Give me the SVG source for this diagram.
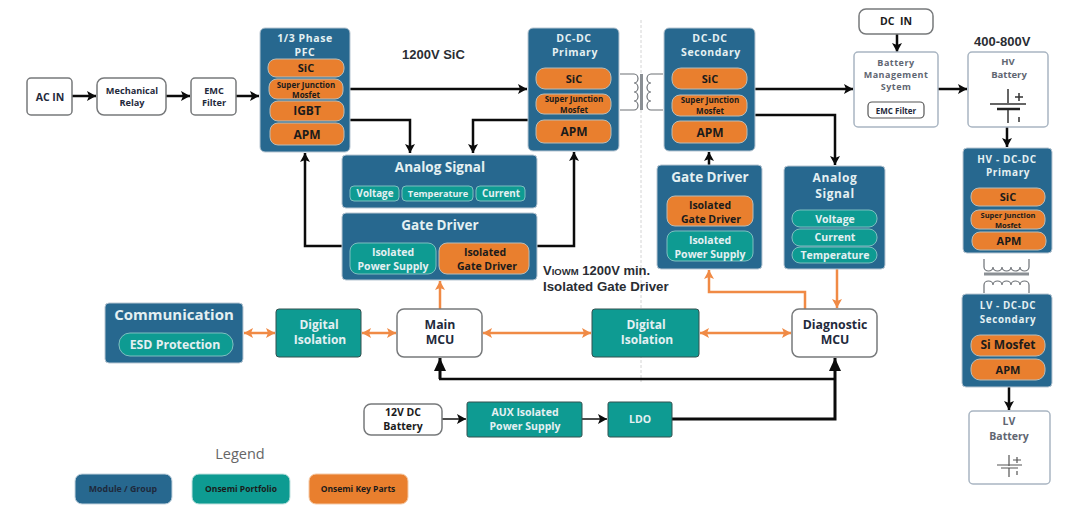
<svg xmlns="http://www.w3.org/2000/svg" width="1080" height="517" viewBox="0 0 1080 517">
<style>
text{font-family:"Open Sans","Liberation Sans",sans-serif;font-weight:700;text-anchor:middle}
.mod{fill:#27688f;stroke:#b8c6d2;stroke-width:1}
.teal{fill:#0e9b92;stroke:#7fbfc0;stroke-width:1}
.tealb{fill:#0e9b92;stroke:#33504f;stroke-width:1}
.org{fill:#e97f2e;stroke:#b9bdb8;stroke-width:1}
.wht{fill:#fff;stroke:#77797b;stroke-width:1.5}
.wht2{fill:#fff;stroke:#a9b5c2;stroke-width:1.5}
.w{fill:#e4f0f2}
.k{fill:#1b1b1b}
.n{fill:#1f2a3c}
.g{fill:#5f6672}
.ts{letter-spacing:.6px}
.note{font-family:"Liberation Sans",Arial,sans-serif;fill:#2a2d33;text-anchor:start}
.bk{fill:none;stroke:#0b0b0b;stroke-width:2.5;marker-end:url(#ak)}
.bkp{fill:none;stroke:#0b0b0b;stroke-width:2.5}
.bkb{fill:none;stroke:#0b0b0b;stroke-width:3;marker-end:url(#akb)}
.thin{fill:none;stroke:#111;stroke-width:1.5;marker-end:url(#ak)}
.or{fill:none;stroke:#f08a45;stroke-width:2.5;marker-end:url(#ao)}
.orb{fill:none;stroke:#f08a45;stroke-width:2.5;marker-start:url(#aos);marker-end:url(#ao)}
.coil{fill:none;stroke:#6c7075;stroke-width:1.2}
.core{fill:none;stroke:#8a8f94;stroke-width:3}
</style>
<defs>
<marker id="ak" markerUnits="userSpaceOnUse" markerWidth="11" markerHeight="11" refX="9" refY="5" orient="auto"><path d="M0 0L9 5L0 10L2 5Z" fill="#0b0b0b"/></marker>
<marker id="akb" markerUnits="userSpaceOnUse" markerWidth="14" markerHeight="12" refX="13" refY="6" orient="auto"><path d="M0 0L13 6L0 12Z" fill="#0b0b0b"/></marker>
<marker id="ao" markerUnits="userSpaceOnUse" markerWidth="11" markerHeight="11" refX="9" refY="5" orient="auto"><path d="M0 0L9 5L0 10L2 5Z" fill="#f08a45"/></marker>
<marker id="aos" markerUnits="userSpaceOnUse" markerWidth="11" markerHeight="11" refX="0" refY="5" orient="auto"><path d="M9 0L0 5L9 10L7 5Z" fill="#f08a45"/></marker>
</defs>

<line x1="641" y1="20" x2="641" y2="382" stroke="#d4d4d4" stroke-width="1" stroke-dasharray="3 2"/>

<g id="connectors">
<path class="bk" d="M72 96H96"/>
<path class="bk" d="M166 96H190"/>
<path class="bk" d="M236 96H259"/>
<path class="bk" d="M350 89H527"/>
<path class="bk" d="M350 120H410V153"/>
<path class="bk" d="M528 120H473V153"/>
<path class="bk" d="M342 246H305V153"/>
<path class="bk" d="M537 246H574V152"/>
<path class="bk" d="M709 165V152"/>
<path class="bk" d="M755 89H853"/>
<path class="bk" d="M755 115H835V165"/>
<path class="bk" d="M897 34V52"/>
<path class="bk" d="M938 89H967"/>
<path class="bk" d="M1007 127V147"/>
<path class="bk" d="M1009 387V410"/>
<path class="or" d="M440 309V281"/>
<path class="orb" d="M244 333H275"/>
<path class="orb" d="M362 333H396"/>
<path class="orb" d="M483 333H591"/>
<path class="orb" d="M700 333H791"/>
<path class="or" d="M805 309V292H709V270"/>
<path class="or" d="M837 269V308"/>
<path class="bkb" d="M440 379V358"/>
<path class="bkp" d="M439 379H835"/>
<path class="bkb" d="M672 419H835V358"/>
<path class="thin" d="M442 419H466"/>
<path class="thin" d="M582 419H607"/>
</g>

<g id="ac-in"><rect class="wht" x="27" y="78" width="45" height="37" rx="4"/><text class="n" x="50" y="101" font-size="10.5">AC IN</text></g>
<g id="mechanical-relay"><rect class="wht" x="97" y="78" width="69" height="37" rx="7"/><text class="n" font-size="9.2" x="132" y="94">Mechanical</text><text class="n" font-size="9.2" x="132" y="106">Relay</text></g>
<g id="emc-filter"><rect class="wht" x="191" y="78" width="45" height="37" rx="4"/><text class="n" font-size="9.2" x="214" y="94">EMC</text><text class="n" font-size="9.2" x="214" y="106">Filter</text></g>

<g id="pfc"><rect class="mod" x="260" y="28" width="90" height="124" rx="5"/>
<text class="w ts" font-size="10.5" x="305" y="42">1/3 Phase</text><text class="w ts" font-size="10.5" x="305" y="56">PFC</text>
<rect class="org" x="268" y="59" width="76" height="18" rx="8"/><text class="k" font-size="11" x="306" y="72">SiC</text>
<rect class="org" x="269" y="79" width="74" height="20" rx="8"/><text class="k" font-size="8" x="306" y="88">Super Junction</text><text class="k" font-size="8" x="306" y="97.500">Mosfet</text>
<rect class="org" x="270" y="101" width="74" height="20" rx="8"/><text class="k" font-size="12" x="307" y="115">IGBT</text>
<rect class="org" x="270" y="123" width="74" height="22" rx="8"/><text class="k" font-size="12" x="307" y="139">APM</text></g>

<g id="analog-signal-primary"><rect class="mod" x="342" y="155" width="195" height="53" rx="4"/>
<text class="w" font-size="13.5" x="440" y="172">Analog Signal</text>
<rect class="teal" x="350" y="186" width="49" height="15" rx="4"/><text class="w" font-size="9.800" x="375" y="197">Voltage</text>
<rect class="teal" x="402" y="186" width="71" height="15" rx="4"/><text class="w" font-size="9.200" x="438" y="197">Temperature</text>
<rect class="teal" x="476" y="186" width="49" height="15" rx="4"/><text class="w" font-size="9.800" x="501" y="197">Current</text></g>

<g id="gate-driver-primary"><rect class="mod" x="342" y="213" width="195" height="67" rx="4"/>
<text class="w" font-size="13.5" x="440" y="230">Gate Driver</text>
<rect class="teal" x="350" y="243" width="86" height="31" rx="8"/><text class="w" font-size="10.5" x="393" y="256">Isolated</text><text class="w" font-size="10.5" x="393" y="270">Power Supply</text>
<rect class="org" x="439" y="243" width="90" height="31" rx="8"/><text class="k" font-size="10.5" x="485" y="256">Isolated</text><text class="k" font-size="10.5" x="487" y="270">Gate Driver</text></g>

<g id="dcdc-primary"><rect class="mod" x="528" y="28" width="91" height="123" rx="5"/>
<text class="w ts" font-size="10.5" x="574" y="42">DC-DC</text><text class="w ts" font-size="10.5" x="575" y="56">Primary</text>
<rect class="org" x="536" y="68" width="75" height="21" rx="9"/><text class="k" font-size="11" x="574" y="83">SiC</text>
<rect class="org" x="536" y="94" width="75" height="20" rx="8"/><text class="k" font-size="8" x="574" y="102">Super Junction</text><text class="k" font-size="8" x="574" y="113">Mosfet</text>
<rect class="org" x="536" y="120" width="75" height="23" rx="8"/><text class="k" font-size="12" x="574" y="136">APM</text></g>

<g id="transformer-main">
<path class="coil" d="M620 74H634a4 4.500 0 0 1 0 9a4 4.500 0 0 1 0 9a4 4.500 0 0 1 0 9a4 4.500 0 0 1 0 9H620"/>
<path class="core" d="M641.500 74V110"/>
<path class="coil" d="M663 74H651a4 4.500 0 0 0 0 9a4 4.500 0 0 0 0 9a4 4.500 0 0 0 0 9a4 4.500 0 0 0 0 9H663"/>
</g>

<g id="dcdc-secondary"><rect class="mod" x="664" y="28" width="91" height="123" rx="5"/>
<text class="w ts" font-size="10.5" x="710" y="42">DC-DC</text><text class="w ts" font-size="10.5" x="711" y="56">Secondary</text>
<rect class="org" x="672" y="68" width="75" height="21" rx="9"/><text class="k" font-size="11" x="710" y="83">SiC</text>
<rect class="org" x="672" y="95" width="75" height="21" rx="8"/><text class="k" font-size="8" x="710" y="103">Super Junction</text><text class="k" font-size="8" x="710" y="114">Mosfet</text>
<rect class="org" x="672" y="121" width="75" height="22" rx="8"/><text class="k" font-size="12" x="710" y="137">APM</text></g>

<g id="gate-driver-secondary"><rect class="mod" x="657" y="165" width="105" height="104" rx="4"/>
<text class="w" font-size="13.5" x="710" y="182">Gate Driver</text>
<rect class="org" x="667" y="196" width="86" height="30" rx="8"/><text class="k" font-size="10.5" x="710" y="209">Isolated</text><text class="k" font-size="10.5" x="711" y="222.500">Gate Driver</text>
<rect class="teal" x="667" y="231" width="86" height="30" rx="8"/><text class="w" font-size="10.5" x="710" y="244">Isolated</text><text class="w" font-size="10.5" x="710" y="257.500">Power Supply</text></g>

<g id="analog-signal-secondary"><rect class="mod" x="784" y="166" width="101" height="103" rx="4"/>
<text class="w ts" font-size="12" x="835" y="182">Analog</text><text class="w ts" font-size="12" x="835" y="198">Signal</text>
<rect class="teal" x="792" y="210" width="85" height="17" rx="8"/><text class="w" font-size="10.5" x="835" y="223">Voltage</text>
<rect class="teal" x="792" y="229" width="85" height="17" rx="8"/><text class="w" font-size="10.5" x="835" y="241">Current</text>
<rect class="teal" x="792" y="247" width="85" height="16" rx="8"/><text class="w" font-size="10.5" x="835" y="258.500">Temperature</text></g>

<g id="dc-in"><rect class="wht" x="859" y="9" width="74" height="25" rx="7"/><text class="k" font-size="10.5" x="896" y="25" xml:space="preserve">DC  IN</text></g>

<g id="battery-management"><rect class="wht2" x="854" y="52" width="84" height="75" rx="4"/>
<text class="g" font-size="9" style="letter-spacing:.5px" x="896" y="65.500">Battery</text><text class="g" font-size="9" style="letter-spacing:.5px" x="896" y="77.500">Management</text><text class="g" font-size="9" style="letter-spacing:.5px" x="896" y="89.500">Sytem</text>
<rect x="868" y="102" width="56" height="16" rx="4" fill="#fff" stroke="#555" stroke-width="1.2"/><text class="n" font-size="8" x="896" y="113.500">EMC Filter</text></g>

<g id="hv-battery"><rect class="wht2" x="968" y="52" width="80" height="75" rx="4"/>
<text class="g" font-size="9.500" x="1008" y="65">HV</text><text class="g" font-size="9.500" x="1009" y="77.500">Battery</text>
<path d="M1008 89V103M990 104H1026" stroke="#333" stroke-width="1.5" fill="none"/><path d="M997 109H1020" stroke="#222" stroke-width="2.5" fill="none"/><path d="M1008 110V123" stroke="#333" stroke-width="1.5" fill="none"/>
<path d="M1015 97H1023M1019 93V101M1019 117V122" stroke="#333" stroke-width="1.5" fill="none"/></g>

<g id="hv-dcdc-primary"><rect class="mod" x="963" y="148" width="89" height="105" rx="4"/>
<text class="w ts" font-size="10" x="1007" y="162.500">HV - DC-DC</text><text class="w ts" font-size="10" x="1008" y="176">Primary</text>
<rect class="org" x="971" y="188" width="74" height="18" rx="8"/><text class="k" font-size="11" x="1008" y="201">SiC</text>
<rect class="org" x="971" y="210" width="74" height="19" rx="8"/><text class="k" font-size="7.500" x="1008" y="218">Super Junction</text><text class="k" font-size="7.500" x="1008" y="227.500">Mosfet</text>
<rect class="org" x="972" y="232" width="74" height="18" rx="8"/><text class="k" font-size="11" x="1009" y="245">APM</text></g>

<g id="transformer-aux">
<path class="coil" d="M984 259V267a4.500 4 0 0 0 9 0a4.500 4 0 0 0 9 0a4.500 4 0 0 0 9 0a4.500 4 0 0 0 9 0a4.500 4 0 0 0 9 0V259"/>
<path class="core" d="M984 274H1029"/>
<path class="coil" d="M984 293V285a4.500 4 0 0 1 9 0a4.500 4 0 0 1 9 0a4.500 4 0 0 1 9 0a4.500 4 0 0 1 9 0a4.500 4 0 0 1 9 0V293"/>
</g>

<g id="lv-dcdc-secondary"><rect class="mod" x="962" y="294" width="90" height="93" rx="4"/>
<text class="w ts" font-size="9.800" x="1008" y="309">LV - DC-DC</text><text class="w ts" font-size="9.800" x="1008" y="322.500">Secondary</text>
<rect class="org" x="971" y="335" width="74" height="21" rx="9"/><text class="k" font-size="12" x="1008" y="349">Si Mosfet</text>
<rect class="org" x="971" y="359" width="74" height="21" rx="9"/><text class="k" font-size="11" x="1008" y="374">APM</text></g>

<g id="lv-battery"><rect class="wht2" x="969" y="411" width="81" height="73" rx="4"/>
<text class="g" font-size="10.500" x="1009" y="425">LV</text><text class="g" font-size="10.500" x="1009" y="440">Battery</text>
<path d="M1009 455V466M997 465H1022M1001 468H1018M1009 468V477M1013 460H1021M1017 457V463M1017 471V475" stroke="#555" stroke-width="1.2" fill="none"/></g>

<g id="communication"><rect class="mod" x="105" y="303" width="138" height="60" rx="4"/>
<text class="w" font-size="15" x="174" y="320">Communication</text>
<rect class="teal" x="119" y="333" width="114" height="23" rx="11"/><text class="w" font-size="12.300" x="175" y="349">ESD Protection</text></g>

<g id="digital-isolation-a"><rect class="tealb" x="276" y="309" width="85" height="48" rx="3"/><text class="w" font-size="12" x="319" y="329">Digital</text><text class="w" font-size="12" x="320" y="344">Isolation</text></g>
<g id="main-mcu"><rect class="wht" x="397" y="309" width="85" height="48" rx="7"/><text class="n" font-size="12.300" x="440" y="329">Main</text><text class="n" font-size="12.300" x="440" y="344">MCU</text></g>
<g id="digital-isolation-b"><rect class="tealb" x="592" y="309" width="107" height="48" rx="3"/><text class="w" font-size="12" x="646" y="329">Digital</text><text class="w" font-size="12" x="647" y="344">Isolation</text></g>
<g id="diagnostic-mcu"><rect class="wht" x="792" y="309" width="85" height="48" rx="7"/><text class="n" font-size="12.300" x="835" y="329">Diagnostic</text><text class="n" font-size="12.300" x="835" y="344">MCU</text></g>

<g id="battery-12v"><rect class="wht" x="364" y="404" width="78" height="31" rx="7"/><text class="k" font-size="10.5" x="403" y="416">12V DC</text><text class="k" font-size="10.5" x="403" y="430">Battery</text></g>
<g id="aux-supply"><rect class="tealb" x="467" y="402" width="115" height="35" rx="2"/><text class="w" font-size="10.5" x="525" y="416">AUX Isolated</text><text class="w" font-size="10.5" x="525" y="430">Power Supply</text></g>
<g id="ldo"><rect class="tealb" x="608" y="402" width="64" height="35" rx="2"/><text class="w" font-size="10.5" x="640" y="423">LDO</text></g>

<g id="notes">
<text class="note" font-size="13" x="402" y="59">1200V SiC</text>
<text class="note" font-size="13" x="974" y="46">400-800V</text>
<text class="note" font-size="13" x="543" y="275">V<tspan font-size="9.500">IOWM</tspan> 1200V min.</text>
<text class="note" font-size="13.300" x="543" y="291">Isolated Gate Driver</text>
</g>

<g id="legend">
<text x="240" y="459" font-size="14.500" style="font-weight:400" fill="#666">Legend</text>
<rect x="75" y="474" width="97" height="30" rx="7" fill="#27688f" stroke="#c3d3de"/><text class="n" font-size="8.800" x="123" y="492">Module / Group</text>
<rect x="192" y="474" width="98" height="30" rx="7" fill="#0e9b92" stroke="#c0e2df"/><text class="k" font-size="8.500" x="241" y="492">Onsemi Portfolio</text>
<rect x="309" y="474" width="99" height="30" rx="7" fill="#e97f2e" stroke="#f5c9a5"/><text class="k" font-size="8.500" x="358" y="492">Onsemi Key Parts</text>
</g>
</svg>
